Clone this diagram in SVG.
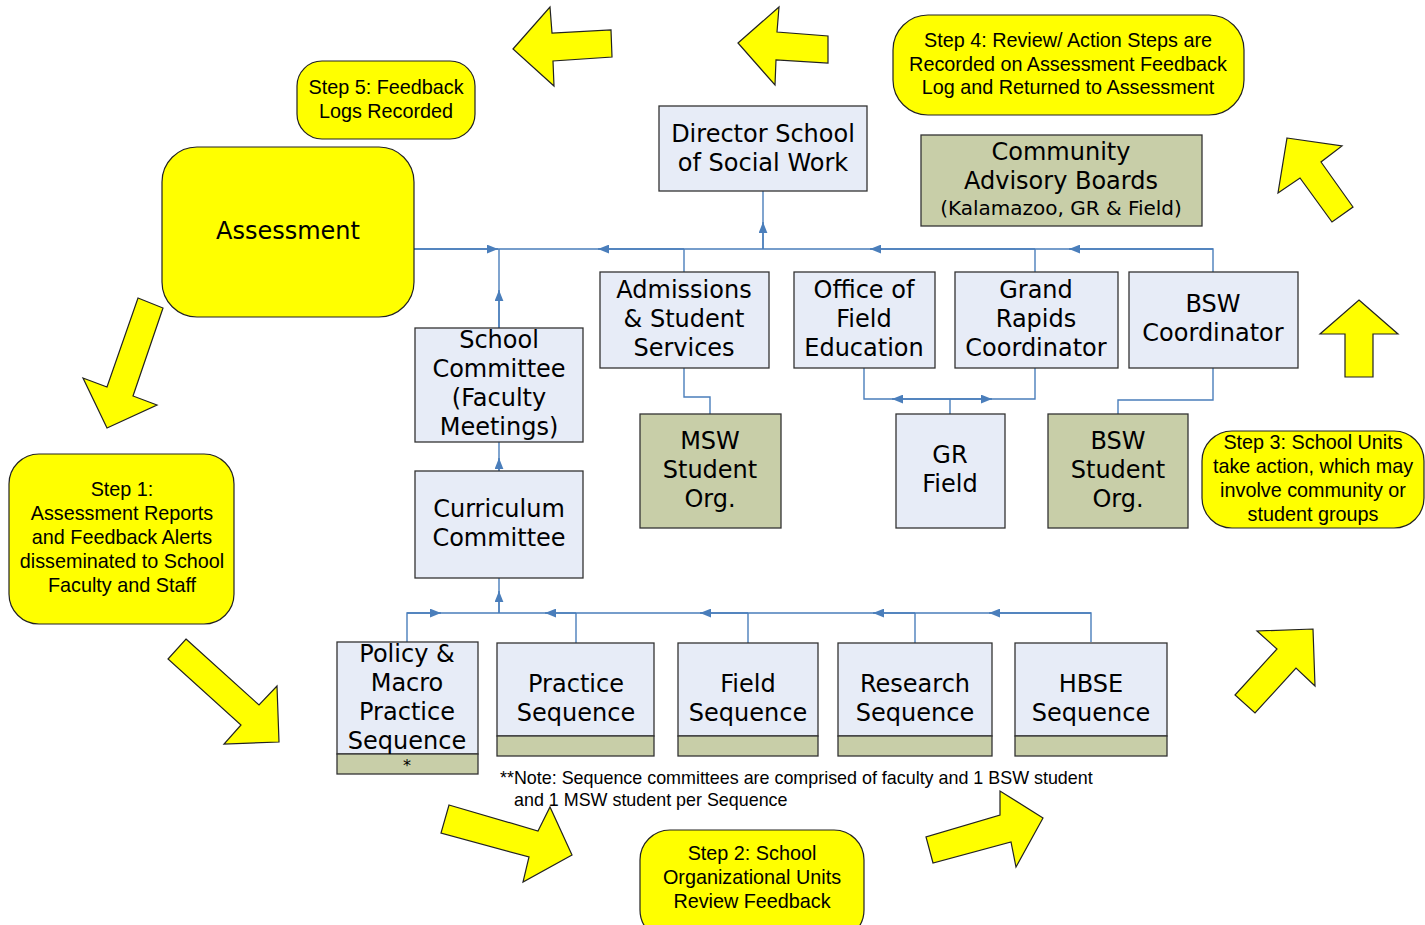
<svg xmlns="http://www.w3.org/2000/svg" width="1425" height="925" viewBox="0 0 1425 925">
<defs>
<style>
.bg{fill:#ffffff}
.blue{fill:#e7ecf7;stroke:#333333;stroke-width:1.3}
.green{fill:#c8cea8;stroke:#333333;stroke-width:1.3}
.step{fill:#ffff00;stroke:#222222;stroke-width:1.2}
.yarrow{fill:#ffff00;stroke:#222222;stroke-width:1.2;stroke-linejoin:miter}
.t{font-family:"DejaVu Sans",Verdana,sans-serif;font-size:24px;fill:#000;text-anchor:middle}
.ts{font-family:"DejaVu Sans",Verdana,sans-serif;font-size:20px;fill:#000;text-anchor:middle}
.star{font-family:"DejaVu Sans",Verdana,sans-serif;font-size:16px;fill:#000;text-anchor:middle}
.st{font-family:"Liberation Sans",Arial,sans-serif;font-size:19.8px;fill:#000;text-anchor:middle}
.note{font-family:"Liberation Sans",Arial,sans-serif;font-size:17.9px;fill:#000}
.con{fill:none;stroke:#4a7ebb;stroke-width:1.4}
.arr{fill:none;stroke:#4a7ebb;stroke-width:1.4;marker-end:url(#ah)}
</style>
<marker id="ah" viewBox="0 0 10 8" refX="10" refY="4" markerWidth="11" markerHeight="9" orient="auto" markerUnits="userSpaceOnUse">
<path d="M0,0 L10,4 L0,8 z" fill="#4a7ebb"/>
</marker>
</defs>
<rect class="bg" x="0" y="0" width="1425" height="925"/>

<g id="connectors">
<path class="con" d="M414 249 H1213 V272"/>
<path class="con" d="M499 328 V249"/>
<path class="con" d="M763 249 V191"/>
<path class="con" d="M684 249 V272"/>
<path class="con" d="M1035 249 V272"/>
<path class="arr" d="M414 249 H498"/>
<path class="arr" d="M684 249 H598"/>
<path class="arr" d="M1035 249 H870"/>
<path class="arr" d="M1213 249 H1069"/>
<path class="arr" d="M499 328 V290"/>
<path class="arr" d="M763 249 V222"/>
<path class="con" d="M684 368 V397 H710 V414"/>
<path class="con" d="M864 368 V399 H1035 V368"/>
<path class="con" d="M950 414 V399"/>
<path class="arr" d="M950 399 H892"/>
<path class="arr" d="M950 399 H992"/>
<path class="con" d="M1213 368 V400 H1118 V414"/>
<path class="con" d="M499 471 V442"/>
<path class="arr" d="M499 471 V458"/>
<path class="con" d="M499 613 V578"/>
<path class="arr" d="M499 613 V591"/>
<path class="con" d="M407 642 V613 H1091 V642"/>
<path class="con" d="M576 643 V613"/>
<path class="con" d="M748 643 V613"/>
<path class="con" d="M915 643 V613"/>
<path class="arr" d="M407 613 H441"/>
<path class="arr" d="M576 613 H545"/>
<path class="arr" d="M748 613 H700"/>
<path class="arr" d="M915 613 H873"/>
<path class="arr" d="M1091 613 H989"/>
</g>

<g id="flow-arrows">
<polygon class="yarrow" points="513,49 550,7 552,33 611,30 612,57 553,61 554,86"/>
<polygon class="yarrow" points="738,43 779,7 777,32 828,36 828,63 776,60 775,85"/>
<polygon class="yarrow" points="1287,138 1342,146 1321,162 1353,207 1332,222 1300,178 1278,193"/>
<polygon class="yarrow" points="1359,300 1398,334 1373,334 1373,377 1345,377 1345,334 1320,334"/>
<polygon class="yarrow" points="1313,629 1315,686 1296,668 1255,713 1235,695 1277,649 1257,631"/>
<polygon class="yarrow" points="1043,818 1000,791 1000,815 926,837 933,863 1011,842 1016,867"/>
<polygon class="yarrow" points="449,805 538,831 550,807 572,855 523,882 529,857 441,833"/>
<polygon class="yarrow" points="138,298 163,308 133,396 157,405 107,428 83,378 107,387"/>
<polygon class="yarrow" points="186,639 259,705 277,686 279,742 224,744 241,725 168,659"/>
</g>

<g id="assessment">
<rect class="step" x="162" y="147" width="252" height="170" rx="35"/>
<text class="t" x="288" y="239">Assessment</text>
</g>

<g id="step5">
<rect class="step" x="297" y="61" width="178" height="78" rx="25"/>
<text class="st" x="386" y="94">Step 5: Feedback</text>
<text class="st" x="386" y="118">Logs Recorded</text>
</g>

<g id="step4">
<rect class="step" x="893" y="15" width="351" height="100" rx="35"/>
<text class="st" x="1068" y="47">Step 4: Review/ Action Steps are</text>
<text class="st" x="1068" y="71">Recorded on Assessment Feedback</text>
<text class="st" x="1068" y="94">Log and Returned to Assessment</text>
</g>

<g id="step1">
<rect class="step" x="9" y="454" width="225" height="170" rx="30"/>
<text class="st" x="122" y="496">Step 1:</text>
<text class="st" x="122" y="520">Assessment Reports</text>
<text class="st" x="122" y="544">and Feedback Alerts</text>
<text class="st" x="122" y="568">disseminated to School</text>
<text class="st" x="122" y="592">Faculty and Staff</text>
</g>

<g id="step2">
<rect class="step" x="640" y="830" width="224" height="110" rx="30"/>
<text class="st" x="752" y="860">Step 2: School</text>
<text class="st" x="752" y="884">Organizational Units</text>
<text class="st" x="752" y="908">Review Feedback</text>
</g>

<g id="step3">
<rect class="step" x="1202" y="431" width="222" height="97" rx="30"/>
<text class="st" x="1313" y="449">Step 3: School Units</text>
<text class="st" x="1313" y="473">take action, which may</text>
<text class="st" x="1313" y="497">involve community or</text>
<text class="st" x="1313" y="521">student groups</text>
</g>

<g id="director">
<rect class="blue" x="659" y="106" width="208" height="85"/>
<text class="t" x="763" y="142">Director School</text>
<text class="t" x="763" y="171">of Social Work</text>
</g>

<g id="community">
<rect class="green" x="921" y="135" width="281" height="91"/>
<text class="t" x="1061" y="160">Community</text>
<text class="t" x="1061" y="189">Advisory Boards</text>
<text class="ts" x="1061" y="215">(Kalamazoo, GR &amp; Field)</text>
</g>

<g id="admissions">
<rect class="blue" x="600" y="272" width="169" height="96"/>
<text class="t" x="684" y="298">Admissions</text>
<text class="t" x="684" y="327">&amp; Student</text>
<text class="t" x="684" y="356">Services</text>
</g>

<g id="field-office">
<rect class="blue" x="794" y="272" width="141" height="96"/>
<text class="t" x="864" y="298">Office of</text>
<text class="t" x="864" y="327">Field</text>
<text class="t" x="864" y="356">Education</text>
</g>

<g id="gr-coordinator">
<rect class="blue" x="955" y="272" width="163" height="96"/>
<text class="t" x="1036" y="298">Grand</text>
<text class="t" x="1036" y="327">Rapids</text>
<text class="t" x="1036" y="356">Coordinator</text>
</g>

<g id="bsw-coordinator">
<rect class="blue" x="1129" y="272" width="169" height="96"/>
<text class="t" x="1213" y="312">BSW</text>
<text class="t" x="1213" y="341">Coordinator</text>
</g>

<g id="msw-org">
<rect class="green" x="640" y="414" width="141" height="114"/>
<text class="t" x="710" y="449">MSW</text>
<text class="t" x="710" y="478">Student</text>
<text class="t" x="710" y="507">Org.</text>
</g>

<g id="gr-field">
<rect class="blue" x="896" y="414" width="109" height="114"/>
<text class="t" x="950" y="463">GR</text>
<text class="t" x="950" y="492">Field</text>
</g>

<g id="bsw-org">
<rect class="green" x="1048" y="414" width="140" height="114"/>
<text class="t" x="1118" y="449">BSW</text>
<text class="t" x="1118" y="478">Student</text>
<text class="t" x="1118" y="507">Org.</text>
</g>

<g id="school-committee">
<rect class="blue" x="415" y="328" width="168" height="114"/>
<text class="t" x="499" y="348">School</text>
<text class="t" x="499" y="377">Committee</text>
<text class="t" x="499" y="406">(Faculty</text>
<text class="t" x="499" y="435">Meetings)</text>
</g>

<g id="curriculum">
<rect class="blue" x="415" y="471" width="168" height="107"/>
<text class="t" x="499" y="517">Curriculum</text>
<text class="t" x="499" y="546">Committee</text>
</g>

<g id="policy-seq">
<rect class="blue" x="337" y="642" width="141" height="112"/>
<rect class="green" x="337" y="754" width="141" height="20"/>
<text class="t" x="407" y="662">Policy &amp;</text>
<text class="t" x="407" y="691">Macro</text>
<text class="t" x="407" y="720">Practice</text>
<text class="t" x="407" y="749">Sequence</text>
<text class="star" x="407" y="771">*</text>
</g>

<g id="practice-seq">
<rect class="blue" x="497" y="643" width="157" height="93"/>
<rect class="green" x="497" y="736" width="157" height="20"/>
<text class="t" x="576" y="692">Practice</text>
<text class="t" x="576" y="721">Sequence</text>
</g>

<g id="field-seq">
<rect class="blue" x="678" y="643" width="140" height="93"/>
<rect class="green" x="678" y="736" width="140" height="20"/>
<text class="t" x="748" y="692">Field</text>
<text class="t" x="748" y="721">Sequence</text>
</g>

<g id="research-seq">
<rect class="blue" x="838" y="643" width="154" height="93"/>
<rect class="green" x="838" y="736" width="154" height="20"/>
<text class="t" x="915" y="692">Research</text>
<text class="t" x="915" y="721">Sequence</text>
</g>

<g id="hbse-seq">
<rect class="blue" x="1015" y="643" width="152" height="93"/>
<rect class="green" x="1015" y="736" width="152" height="20"/>
<text class="t" x="1091" y="692">HBSE</text>
<text class="t" x="1091" y="721">Sequence</text>
</g>

<g id="note">
<text class="note" x="500" y="784">**Note: Sequence committees are comprised of faculty and 1 BSW student</text>
<text class="note" x="514" y="806">and 1 MSW student per Sequence</text>
</g>
</svg>
